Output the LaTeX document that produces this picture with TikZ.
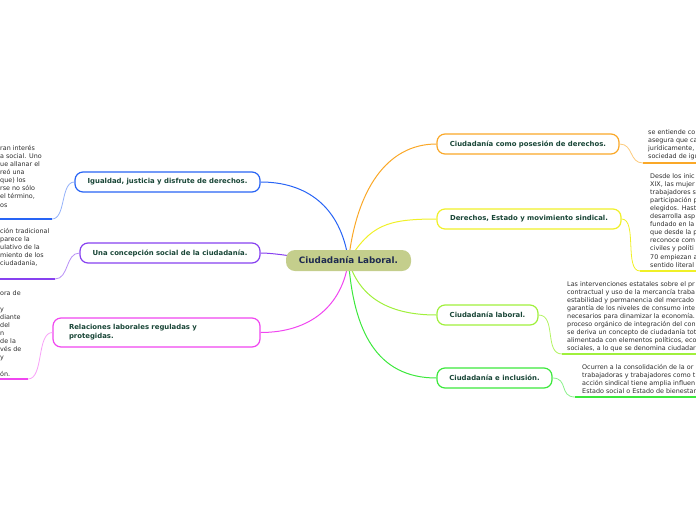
\documentclass[tikz,border=0pt]{standalone}
\usepackage{fontspec}
\setmainfont{DejaVu Sans}
\usetikzlibrary{backgrounds}

\definecolor{cBlue}{RGB}{40,100,245}
\definecolor{cPurple}{RGB}{135,65,240}
\definecolor{cMagenta}{RGB}{240,70,240}
\definecolor{cOrange}{RGB}{250,168,40}
\definecolor{cYellow}{RGB}{240,240,40}
\definecolor{cLime}{RGB}{160,240,60}
\definecolor{cGreen}{RGB}{60,232,60}
\definecolor{rootfill}{RGB}{196,206,140}
\definecolor{roottext}{RGB}{30,42,80}
\definecolor{nodetext}{RGB}{25,70,55}
\definecolor{notetext}{RGB}{45,45,45}

\tikzset{
  root/.style={fill=rootfill, rounded corners=9pt, minimum width=125pt, minimum height=21pt,
    inner sep=0pt, font=\bfseries\fontsize{8.8}{10}\selectfont, text=roottext},
  branch/.style={draw, line width=1.2pt, fill=white, rounded corners=8pt, minimum height=20pt,
    inner sep=0pt, font=\bfseries\fontsize{6.9}{8.8}\selectfont, text=nodetext},
  note/.style={anchor=north west, inner sep=0pt, align=left,
    font=\fontsize{6.4}{8.1}\selectfont, text=notetext},
  link/.style={line width=1pt},
  sublink/.style={line width=0.8pt},
  uline/.style={line width=2.6pt},
}

\begin{document}
\begin{tikzpicture}[x=1pt,y=-1pt]
    \useasboundingbox (0,0) rectangle (696,520);

    % central topic
    \node[root] (main) at (348.5,260.5) {Ciudadanía Laboral.};

    % right side branches
    \node[branch, draw=cOrange, minimum width=182pt] (posesion) at (528,144) {Ciudadanía como posesión de derechos.};
    \node[branch, draw=cYellow, minimum width=184pt] (sindical) at (529,219) {Derechos, Estado y movimiento sindical.};
    \node[branch, draw=cLime, minimum width=101pt] (laboral) at (487.5,315) {Ciudadanía laboral.};
    \node[branch, draw=cGreen, minimum width=115pt] (inclusion) at (494.5,378) {Ciudadanía e inclusión.};

    % left side branches
    \node[branch, draw=cBlue, minimum width=185pt] (igualdad) at (167.5,182) {Igualdad, justicia y disfrute de derechos.};
    \node[branch, draw=cPurple, minimum width=180pt] (concepcion) at (170,253) {Una concepción social de la ciudadanía.};
    \node[branch, draw=cMagenta, minimum width=207pt, minimum height=29pt, align=left, text width=175pt] (relaciones) at (156.5,332.5) {Relaciones laborales reguladas y\\protegidas.};

    % the notes, cut by the border of the page
    \node[note] (n_posesion) at (648,129) {se entiende co\\asegura que ca\\jurídicamente,\\sociedad de igu};
    \node[note] (n_sindical) at (650,173) {Desde los inic\\XIX, las mujer\\trabajadores s\\participación p\\elegidos. Hast\\desarrolla asp\\fundado en la\\que desde la p\\reconoce com\\civiles y políti\\70 empiezan a\\sentido literal};
    \node[note] (n_laboral) at (567,281) {Las intervenciones estatales sobre el pr\\contractual y uso de la mercancía traba\\estabilidad y permanencia del mercado\\garantía de los niveles de consumo inte\\necesarios para dinamizar la economía.\\proceso orgánico de integración del con\\se deriva un concepto de ciudadanía tot\\alimentada con elementos políticos, eco\\sociales, a lo que se denomina ciudadar};
    \node[note] (n_inclusion) at (582,364) {Ocurren a la consolidación de la or\\trabajadoras y trabajadores como t\\acción sindical tiene amplia influen\\Estado social o Estado de bienestar};
    \node[note] (n_igualdad) at (0,145) {ran interés\\a social. Uno\\ue allanar el\\reó una\\que) los\\rse no sólo\\el término,\\os};
    \node[note] (n_concepcion) at (0,228) {ción tradicional\\parece la\\ulativo de la\\miento de los\\ ciudadanía,};
    \node[note] (n_relaciones) at (0,290) {ora de\\ \\ y\\diante\\ del\\n\\de la\\vés de\\ y\\ \\ón.};

    % ends of the underlines
    \coordinate (u_posesion) at (643,163);
    \coordinate (u_sindical) at (640,271);
    \coordinate (u_laboral) at (562,354);
    \coordinate (u_inclusion) at (575,397);
    \coordinate (u_igualdad) at (52,219);
    \coordinate (u_concepcion) at (55,279);
    \coordinate (u_relaciones) at (28,379);

    \begin{scope}[on background layer]
      % connectors from the central topic
      \draw[link, cBlue] (main.center) .. controls +(-8,-55) and +(45,0) .. (igualdad.east);
      \draw[link, cPurple] (main.center) .. controls +(-40,0) and +(20,0) .. (concepcion.east);
      \draw[link, cMagenta] (main.center) .. controls +(-6,45) and +(50,0) .. (relaciones.east);
      \draw[link, cOrange] (main.center) .. controls +(8,-70) and +(-50,0) .. (posesion.west);
      \draw[link, cYellow] (main.center) .. controls +(22,-35) and +(-50,0) .. (sindical.west);
      \draw[link, cLime] (main.center) .. controls +(10,35) and +(-50,0) .. (laboral.west);
      \draw[link, cGreen] (main.center) .. controls +(5,70) and +(-60,0) .. (inclusion.west);
    \end{scope}

    % connectors to the notes
    \draw[sublink, cOrange!60] (posesion.east) .. controls +(14,0) and +(-14,0) .. (u_posesion);
    \draw[sublink, cYellow] (sindical.east) .. controls +(16,0) and +(-16,0) .. (u_sindical);
    \draw[sublink, cLime!80] (laboral.east) .. controls +(18,0) and +(-18,0) .. (u_laboral);
    \draw[sublink, cGreen!60] (inclusion.east) .. controls +(16,0) and +(-16,0) .. (u_inclusion);
    \draw[sublink, cBlue!50] (igualdad.west) .. controls +(-14,0) and +(14,0) .. (u_igualdad);
    \draw[sublink, cPurple!60] (concepcion.west) .. controls +(-14,0) and +(14,0) .. (u_concepcion);
    \draw[sublink, cMagenta!50] (relaciones.west) .. controls +(-16,0) and +(16,0) .. (u_relaciones);

    % underlines of the notes
    \foreach \u/\c in {posesion/cOrange,sindical/cYellow,laboral/cLime,inclusion/cGreen} {
      \draw[uline, \c] (u_\u) -- (u_\u -| 700,0);
    };
    \foreach \u/\c in {igualdad/cBlue,concepcion/cPurple,relaciones/cMagenta} {
      \draw[uline, \c] (u_\u) -- (u_\u -| -4,0);
    };
\end{tikzpicture}
\end{document}
